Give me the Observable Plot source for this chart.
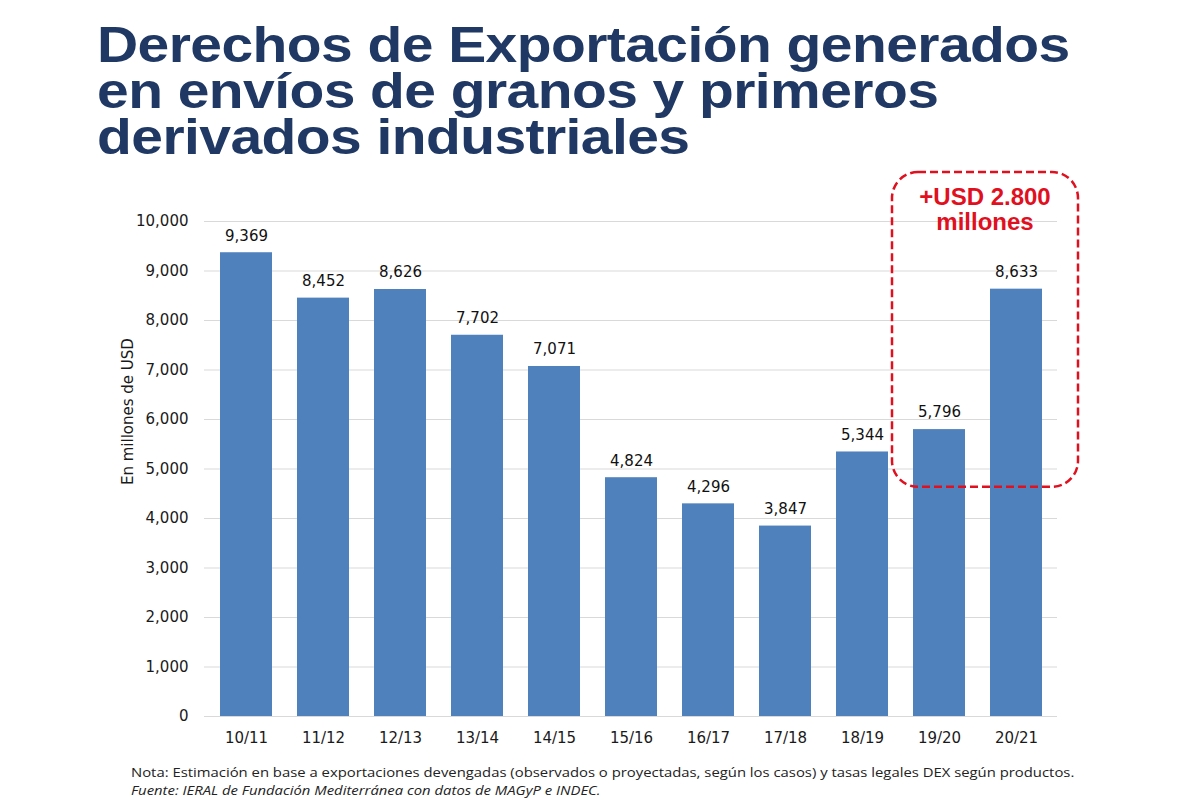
<!DOCTYPE html>
<html>
<head>
<meta charset="utf-8">
<script src="https://cdn.jsdelivr.net/npm/d3@7"></script>
<script src="https://cdn.jsdelivr.net/npm/@observablehq/plot@0.6"></script>
<style>
  html, body { margin: 0; padding: 0; background: #fff; width: 1200px; height: 801px; overflow: hidden; }
  #title { position: absolute; left: 97px; top: 22px; font-family: "Liberation Sans", Arial, sans-serif; font-weight: bold; font-size: 50px; line-height: 46px; color: #1f3864; letter-spacing: -0.5px; transform: scaleX(1.14); transform-origin: 0 0; white-space: nowrap; }
  #chart { position: absolute; left: 0; top: 170px; }
  #note { position: absolute; left: 131px; top: 763px; font-family: "Open Sans", "Noto Sans", sans-serif; font-size: 13.5px; line-height: 18px; color: #222; transform: scaleX(1.1); transform-origin: 0 0; white-space: nowrap; }
  #note .src { font-style: italic; }
</style>
</head>
<body>
<div id="title">Derechos de Exportación generados<br>en envíos de granos y primeros<br>derivados industriales</div>
<div id="chart"></div>
<div id="note">Nota: Estimación en base a exportaciones devengadas (observados o proyectadas, según los casos) y tasas legales DEX según productos.<br><span class="src">Fuente: IERAL de Fundación Mediterránea con datos de MAGyP e INDEC.</span></div>
<script>
const campaigns = ["10/11","11/12","12/13","13/14","14/15","15/16","16/17","17/18","18/19","19/20","20/21"];
const values = [9369, 8452, 8626, 7702, 7071, 4824, 4296, 3847, 5344, 5796, 8633];
const yTicks = [0,1000,2000,3000,4000,5000,6000,7000,8000,9000,10000];
const yLabel = "En millones de USD";
const highlight = ["19/20", "20/21"];
const highlightRange = [4630, 10990];
const annotationLines = ["+USD 2.800", "millones"];

(function () {
  const data = campaigns.map((c, i) => ({campaign: c, value: values[i]}));
  const fmt = d3.format(",");

  const plot = Plot.plot({
    width: 1200,
    height: 590,
    marginLeft: 204,
    marginRight: 143,
    marginTop: 51,
    marginBottom: 44,
    style: {fontFamily: "'DejaVu Sans', sans-serif", fontSize: "15px", color: "#1a1a1a", background: "transparent"},
    x: {domain: campaigns, paddingInner: 0.33, paddingOuter: 0.165, label: null, tickSize: 0, tickPadding: 16},
    y: {domain: [0, 10000], ticks: yTicks, tickFormat: fmt, label: null, tickSize: 0, tickPadding: 16},
    marks: [
      Plot.gridY(yTicks, {stroke: "#d9d9d9", strokeOpacity: 1, strokeWidth: 1}),
      Plot.barY(data, {x: "campaign", y: "value", fill: "#4f81bd"}),
      Plot.text(data, {x: "campaign", y: "value", text: d => fmt(d.value), dy: -17, fontSize: 15, fill: "#111"}),
      Plot.axisY({ticks: yTicks, tickFormat: fmt, tickSize: 0, tickPadding: 16, label: null, fontSize: 15})
    ]
  });

  const svg = d3.select(plot);
  const xs = plot.scale("x");
  const ys = plot.scale("y");

  svg.append("text")
    .attr("transform", `translate(128, ${ys.apply(6150)}) rotate(-90)`)
    .attr("text-anchor", "middle")
    .attr("dominant-baseline", "middle")
    .attr("font-size", 15)
    .attr("fill", "#1a1a1a")
    .text(yLabel);

  const bw = xs.bandwidth;
  const step = xs.step;
  const rLeft = xs.apply(highlight[0]) - (step - bw) / 2 - 8.5;
  const rRight = xs.apply(highlight[1]) + bw + (step - bw) / 2 + 23.5;
  const rTop = ys.apply(highlightRange[1]);
  const rBottom = ys.apply(highlightRange[0]);
  svg.append("rect")
    .attr("x", rLeft).attr("y", rTop)
    .attr("width", rRight - rLeft).attr("height", rBottom - rTop)
    .attr("rx", 26).attr("ry", 26)
    .attr("fill", "none")
    .attr("stroke", "#e0101e")
    .attr("stroke-width", 2.5)
    .attr("stroke-dasharray", "8,4");
  const cx = (rLeft + rRight) / 2;
  annotationLines.forEach((t, i) => {
    svg.append("text")
      .attr("x", cx).attr("y", rTop + 33 + i * 25)
      .attr("text-anchor", "middle")
      .attr("font-family", "'Liberation Sans', Arial, sans-serif")
      .attr("font-size", 24)
      .attr("font-weight", "bold")
      .attr("fill", "#e0101e")
      .text(t);
  });

  document.getElementById("chart").appendChild(plot);
})();
</script>
</body>
</html>
